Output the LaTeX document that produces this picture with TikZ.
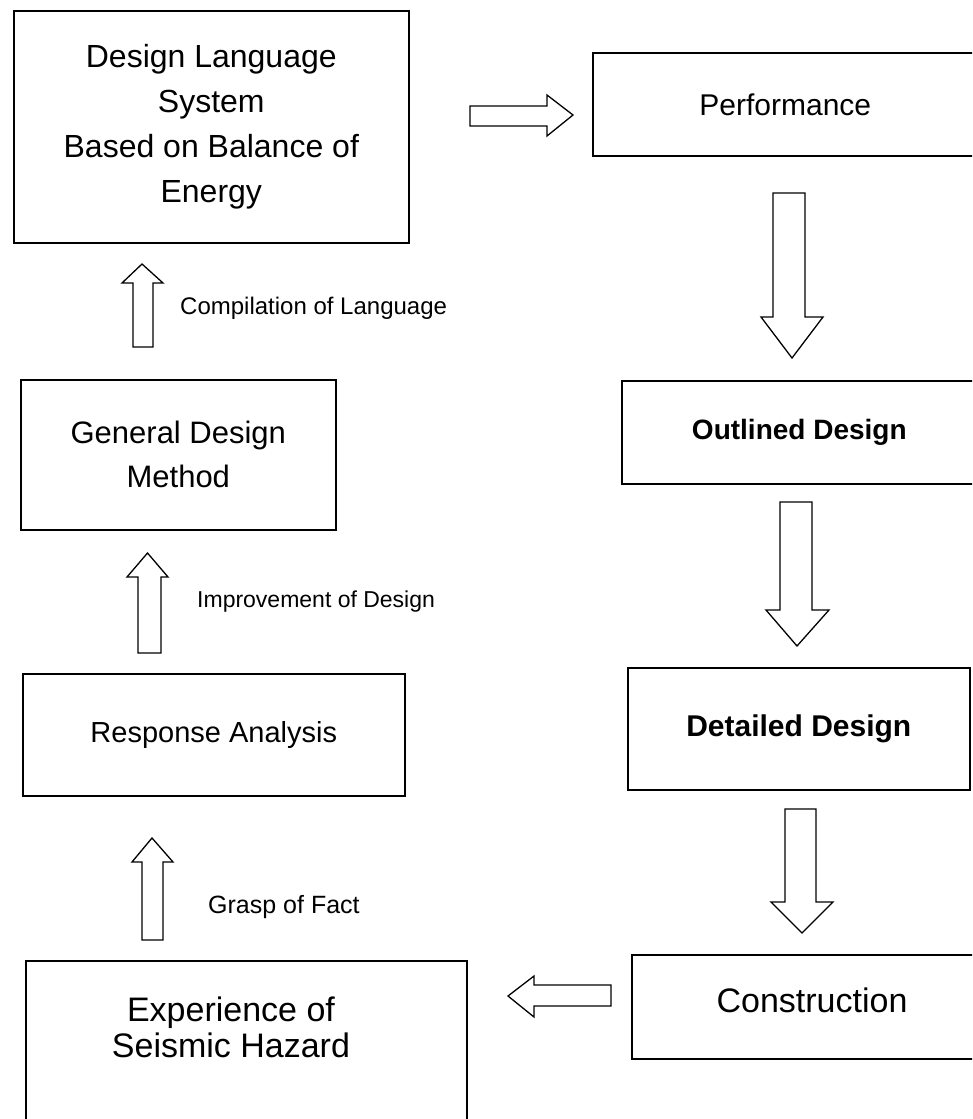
\documentclass[tikz,border=0pt]{standalone}
\usepackage{fontspec}
\setmainfont{Liberation Sans}
\begin{document}
\begin{tikzpicture}[x=1pt,y=-1pt,
  box/.style={draw, line width=1.6pt, inner sep=0pt, anchor=north west, align=center},
  blk/.style={draw, line width=1.3pt, line join=miter, fill=white},
  lbl/.style={anchor=west, inner sep=0pt, font=\fontsize{24}{28}\selectfont}]
\useasboundingbox (0,0) rectangle (972,1119);
\clip (0,0) rectangle (972,1119);
\fill[white] (0,0) rectangle (972,1119);
% boxes
\node[box, minimum width=395pt, minimum height=232pt,
      font=\fontsize{32}{45}\selectfont] (dls) at (13,10)
  {Design Language\\System\\Based on Balance of\\Energy};
\node[box, minimum width=385pt, minimum height=103pt,
      font=\fontsize{30}{34}\selectfont] (perf) at (592,52) {Performance};
\node[box, minimum width=315pt, minimum height=150pt,
      font=\fontsize{31}{44}\selectfont] (gdm) at (20,379) {General Design\\Method};
\node[box, minimum width=355pt, minimum height=103pt,
      font=\bfseries\fontsize{28}{32}\selectfont] (outl) at (621,380) {Outlined Design};
\node[box, minimum width=382pt, minimum height=122pt,
      font=\fontsize{29}{33}\selectfont] (resp) at (22,673) {Response Analysis};
\node[box, minimum width=342pt, minimum height=122pt,
      font=\bfseries\fontsize{30}{34}\selectfont] (det) at (627,667) {Detailed Design};
\node[box, minimum width=441pt, minimum height=220pt] (exp) at (25,960) {};
\node[align=center, inner sep=0pt, font=\fontsize{34}{36}\selectfont] (expt) at (231,1027)
  {Experience of\\Seismic Hazard};
\node[box, minimum width=345pt, minimum height=104pt] (cons) at (631,954) {};
\node[inner sep=0pt, font=\fontsize{34}{38}\selectfont] (const) at (812,1000) {Construction};
% labels
\node[lbl] (l1) at (180,308) {Compilation of Language};
\node[lbl, font=\fontsize{23}{27}\selectfont] (l2) at (197,602) {Improvement of Design};
\node[lbl, font=\fontsize{25}{29}\selectfont] (l3) at (208,907) {Grasp of Fact};
% block arrows
\draw[blk] (470,106) -- (547,106) -- (547,95) -- (573,115) -- (547,136) -- (547,126) -- (470,126) -- cycle;
\draw[blk] (133,347) -- (133,283) -- (122,283) -- (142,264) -- (163,283) -- (153,283) -- (153,347) -- cycle;
\draw[blk] (138,653) -- (138,577) -- (127,577) -- (147.5,553) -- (168,577) -- (161,577) -- (161,653) -- cycle;
\draw[blk] (142,940) -- (142,862) -- (132,862) -- (152,838) -- (173,862) -- (163,862) -- (163,940) -- cycle;
\draw[blk] (773,193) -- (805,193) -- (805,317) -- (823,317) -- (792,358) -- (761,317) -- (773,317) -- cycle;
\draw[blk] (780,502) -- (812,502) -- (812,610) -- (829,610) -- (797,646) -- (766,610) -- (780,610) -- cycle;
\draw[blk] (785,809) -- (816,809) -- (816,902) -- (833,902) -- (802,933) -- (771,902) -- (785,902) -- cycle;
\draw[blk] (611,985) -- (534,985) -- (534,976) -- (508,996) -- (534,1017) -- (534,1006) -- (611,1006) -- cycle;
\end{tikzpicture}
\end{document}
